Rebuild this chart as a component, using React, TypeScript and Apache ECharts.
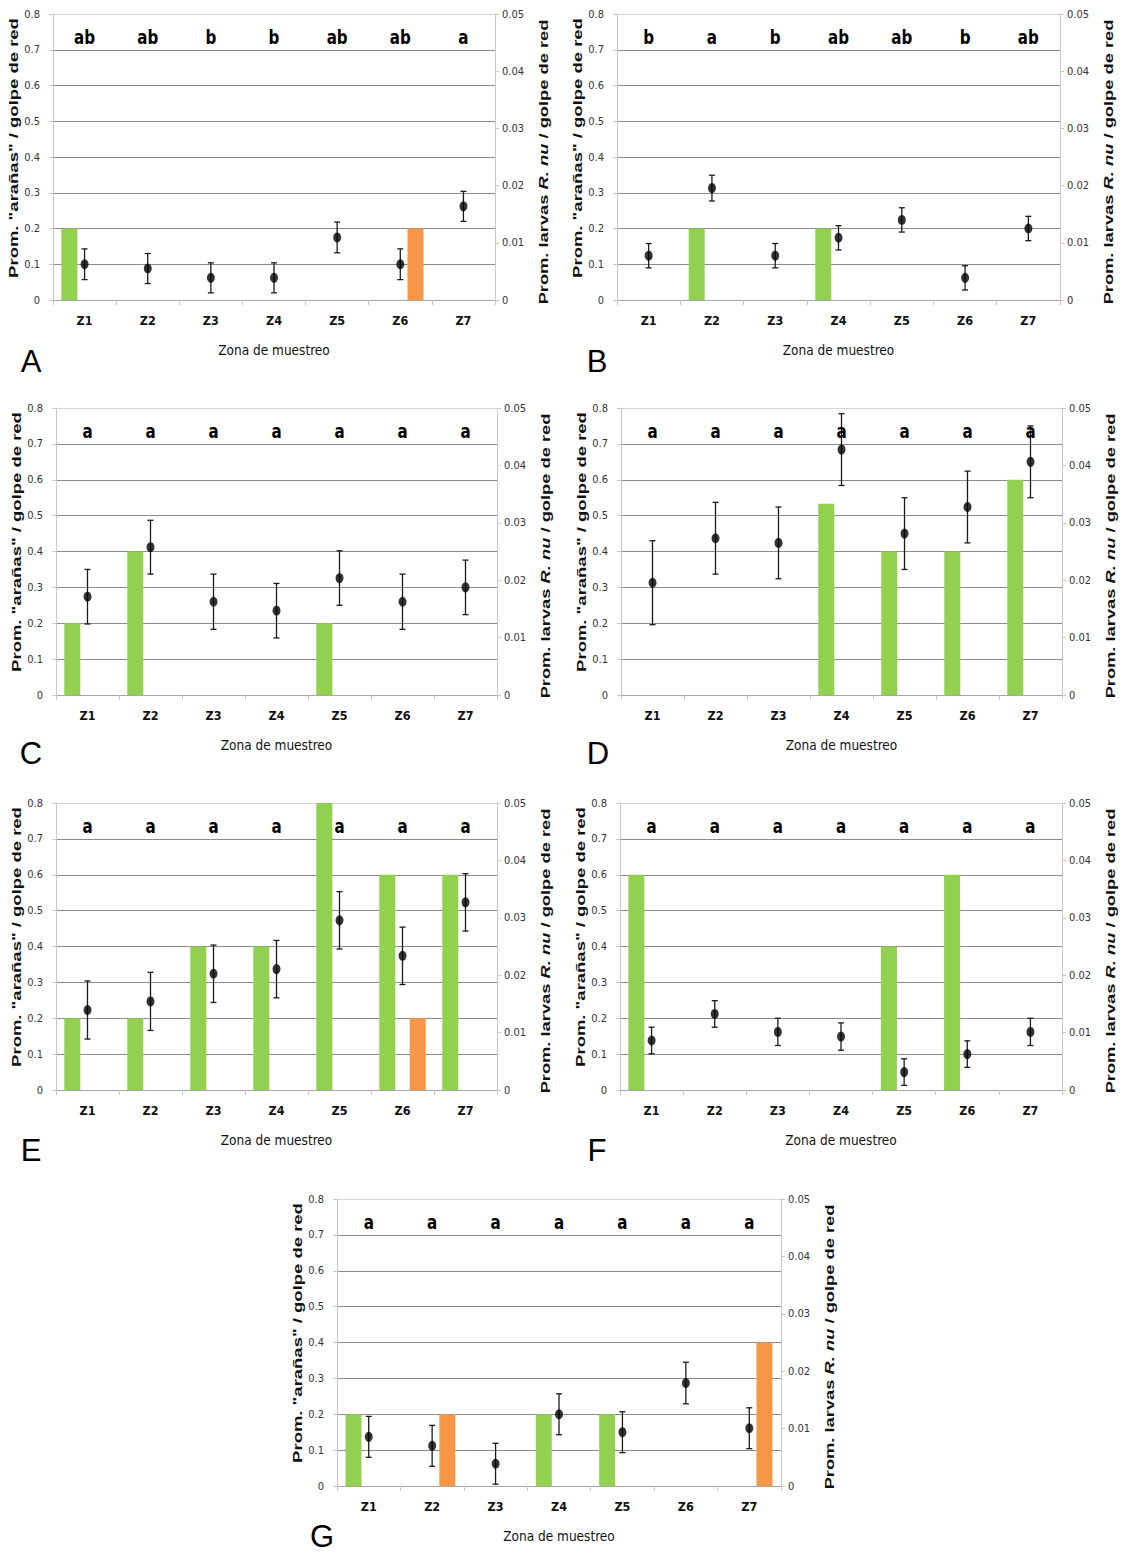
import React, { useEffect, useRef } from "react";
import * as echarts from "echarts";

// ---------- data ----------
const ZONES = ["Z1", "Z2", "Z3", "Z4", "Z5", "Z6", "Z7"];
const PANEL_NAMES = ["A", "B", "C", "D", "E", "F", "G"];

const LEFT_TICKS = [0, 0.8, 0.1]; // min, max, interval (arañas)
const RIGHT_TICKS = [0, 0.05, 0.01]; // min, max, interval (larvas R. nu)

// significance letters
const LET_A = ["ab", "ab", "b", "b", "ab", "ab", "a"];
const LET_B = ["b", "a", "b", "ab", "ab", "b", "ab"];
const LET_C = ["a", "a", "a", "a", "a", "a", "a"];
const LET_D = ["a", "a", "a", "a", "a", "a", "a"];
const LET_E = ["a", "a", "a", "a", "a", "a", "a"];
const LET_F = ["a", "a", "a", "a", "a", "a", "a"];
const LET_G = ["a", "a", "a", "a", "a", "a", "a"];

// mean "arañas" per net sweep (left axis) and error
const MEAN_A = [0.1, 0.088, 0.062, 0.062, 0.175, 0.1, 0.262];
const ERR_A = [0.043, 0.042, 0.042, 0.042, 0.043, 0.043, 0.042];
const MEAN_B = [0.124, 0.313, 0.124, 0.174, 0.224, 0.062, 0.2];
const ERR_B = [0.034, 0.036, 0.034, 0.034, 0.034, 0.034, 0.034];
const MEAN_C = [0.274, 0.412, 0.26, 0.235, 0.326, 0.26, 0.3];
const ERR_C = [0.076, 0.075, 0.077, 0.076, 0.076, 0.077, 0.076];
const MEAN_D = [0.313, 0.437, 0.424, 0.684, 0.45, 0.524, 0.65];
const ERR_D = [0.117, 0.1, 0.1, 0.1, 0.1, 0.1, 0.1];
const MEAN_E = [0.223, 0.247, 0.324, 0.337, 0.473, 0.374, 0.523];
const ERR_E = [0.081, 0.081, 0.08, 0.08, 0.08, 0.08, 0.08];
const MEAN_F = [0.138, 0.212, 0.162, 0.149, 0.05, 0.1, 0.162];
const ERR_F = [0.037, 0.037, 0.038, 0.038, 0.037, 0.037, 0.038];
const MEAN_G = [0.137, 0.112, 0.062, 0.2, 0.15, 0.287, 0.161];
const ERR_G = [0.057, 0.057, 0.057, 0.057, 0.057, 0.058, 0.057];

// mean larvae R. nu per net sweep (right axis): green and orange bars
const GREEN_A = [0.0125, null, null, null, null, null, null];
const ORANGE_A = [null, null, null, null, null, 0.0125, null];
const GREEN_B = [null, 0.0125, null, 0.0125, null, null, null];
const ORANGE_B = [null, null, null, null, null, null, null];
const GREEN_C = [0.0125, 0.025, null, null, 0.0125, null, null];
const ORANGE_C = [null, null, null, null, null, null, null];
const GREEN_D = [null, null, null, 0.0333, 0.025, 0.025, 0.0375];
const ORANGE_D = [null, null, null, null, null, null, null];
const GREEN_E = [0.0125, 0.0125, 0.025, 0.025, 0.05, 0.0375, 0.0375];
const ORANGE_E = [null, null, null, null, null, 0.0125, null];
const GREEN_F = [0.0375, null, null, null, 0.025, 0.0375, null];
const ORANGE_F = [null, null, null, null, null, null, null];
const GREEN_G = [0.0125, null, null, 0.0125, 0.0125, null, null];
const ORANGE_G = [null, 0.0125, null, null, null, null, 0.025];

const LEFT_NAME = 'Prom. "arañas" / golpe de red';
const RIGHT_NAME = "Prom. larvas {i|R. nu} / golpe de red";
const X_NAME = "Zona de muestreo";

// ---------- layout / style ----------
const PANELS = [
  { letters: LET_A, mean: MEAN_A, err: ERR_A, green: GREEN_A, orange: ORANGE_A, box: [53, 14, 442, 286], tag: [31, 361] },
  { letters: LET_B, mean: MEAN_B, err: ERR_B, green: GREEN_B, orange: ORANGE_B, box: [617, 14, 443, 286], tag: [597, 361] },
  { letters: LET_C, mean: MEAN_C, err: ERR_C, green: GREEN_C, orange: ORANGE_C, box: [56, 408, 441, 287], tag: [31, 753] },
  { letters: LET_D, mean: MEAN_D, err: ERR_D, green: GREEN_D, orange: ORANGE_D, box: [621, 408, 441, 287], tag: [598, 753] },
  { letters: LET_E, mean: MEAN_E, err: ERR_E, green: GREEN_E, orange: ORANGE_E, box: [56, 803, 441, 287], tag: [31, 1150] },
  { letters: LET_F, mean: MEAN_F, err: ERR_F, green: GREEN_F, orange: ORANGE_F, box: [620, 803, 442, 287], tag: [597, 1150] },
  { letters: LET_G, mean: MEAN_G, err: ERR_G, green: GREEN_G, orange: ORANGE_G, box: [337, 1199, 444, 287], tag: [322, 1536] },
];

const LETTER_Y = 0.735;
const NARROW = "'DejaVu Sans Condensed', 'Liberation Sans', Arial, sans-serif";
const SANS = "'Liberation Sans', Arial, sans-serif";
const GREEN = "#92d050";
const ORANGE = "#f79646";
const NAME_SIZE = 12.5;
const LEFT_NAME_LEN = 260;
const RIGHT_NAME_LEN = 285;

function textWidth(style: any) {
  try {
    const t = new (echarts.graphic as any).Text({ style });
    const w = t.getBoundingRect().width;
    return w > 0 ? w : null;
  } catch (e) {
    return null;
  }
}

function nameStyle(text: string) {
  return {
    text,
    fill: "#111",
    fontSize: NAME_SIZE,
    fontWeight: "bold",
    fontFamily: SANS,
    textAlign: "center",
    textVerticalAlign: "middle",
    align: "center",
    verticalAlign: "middle",
    rich: {
      i: { fontSize: NAME_SIZE, fontWeight: "bold", fontStyle: "italic", fontFamily: SANS, fill: "#111", color: "#111" },
    },
  };
}

function buildOption() {
  const grid: any[] = [];
  const xAxis: any[] = [];
  const yAxis: any[] = [];
  const series: any[] = [];
  const graphic: any[] = [];

  const lw = textWidth(nameStyle(LEFT_NAME));
  const rw = textWidth(nameStyle(RIGHT_NAME));
  const leftScale = lw ? LEFT_NAME_LEN / lw : 1.2;
  const rightScale = rw ? RIGHT_NAME_LEN / rw : 1.2;

  PANELS.forEach((p, k) => {
    const [left, top, width, height] = p.box;
    grid.push({ left, top, width, height, containLabel: false });
    xAxis.push({
      type: "category",
      gridIndex: k,
      data: ZONES,
      name: X_NAME,
      nameLocation: "middle",
      nameGap: 43,
      nameTextStyle: { fontFamily: NARROW, fontSize: 13.5, color: "#111" },
      axisLine: { show: true, lineStyle: { color: "#a6a6a6", width: 1 } },
      axisTick: { show: true, length: 5, lineStyle: { color: "#c8c8c8" } },
      axisLabel: { margin: 14, fontFamily: NARROW, fontWeight: "bold", fontSize: 12.5, color: "#111" },
      splitLine: { show: false },
    });
    yAxis.push({
      type: "value",
      gridIndex: k,
      position: "left",
      min: LEFT_TICKS[0],
      max: LEFT_TICKS[1],
      interval: LEFT_TICKS[2],
      axisLine: { show: true, lineStyle: { color: "#c8c8c8" } },
      axisTick: { show: true, length: 4, lineStyle: { color: "#c8c8c8" } },
      axisLabel: { margin: 13, fontFamily: NARROW, fontSize: 11, color: "#333" },
      splitLine: {
        show: true,
        lineStyle: {
          color: ["#8c8c8c", "#8c8c8c", "#8c8c8c", "#8c8c8c", "#8c8c8c", "#8c8c8c", "#8c8c8c", "#8c8c8c", "#d4d4d4"],
          width: 1,
        },
      },
    });
    yAxis.push({
      type: "value",
      gridIndex: k,
      position: "right",
      min: RIGHT_TICKS[0],
      max: RIGHT_TICKS[1],
      interval: RIGHT_TICKS[2],
      axisLine: { show: true, lineStyle: { color: "#c8c8c8" } },
      axisTick: { show: true, length: 4, lineStyle: { color: "#c8c8c8" } },
      axisLabel: { margin: 7, fontFamily: NARROW, fontSize: 11, color: "#333" },
      splitLine: { show: false },
    });
    const yl = 2 * k;
    const yr = 2 * k + 1;
    series.push({
      type: "bar",
      name: "larvas verde " + PANEL_NAMES[k],
      xAxisIndex: k,
      yAxisIndex: yr,
      data: p.green,
      barWidth: 16,
      barGap: "90%",
      itemStyle: { color: GREEN },
      silent: true,
      z: 1,
    });
    series.push({
      type: "bar",
      name: "larvas naranja " + PANEL_NAMES[k],
      xAxisIndex: k,
      yAxisIndex: yr,
      data: p.orange,
      barWidth: 16,
      barGap: "90%",
      itemStyle: { color: ORANGE },
      silent: true,
      z: 1,
    });
    const errData = p.mean.map((m, i) => [i, m, p.err[i]]);
    series.push({
      type: "custom",
      name: "error " + PANEL_NAMES[k],
      xAxisIndex: k,
      yAxisIndex: yl,
      coordinateSystem: "cartesian2d",
      data: errData,
      encode: { x: 0, y: 1 },
      silent: true,
      z: 3,
      renderItem: (params: any, api: any) => {
        const x = api.value(0);
        const m = api.value(1);
        const e = api.value(2);
        const t = api.coord([x, m + e]);
        const b = api.coord([x, m - e]);
        const cx = t[0];
        const st = { stroke: "#1a1a1a", lineWidth: 1.3 };
        return {
          type: "group",
          children: [
            { type: "line", shape: { x1: cx, y1: t[1], x2: cx, y2: b[1] }, style: st },
            { type: "line", shape: { x1: cx - 3, y1: t[1], x2: cx + 3, y2: t[1] }, style: st },
            { type: "line", shape: { x1: cx - 3, y1: b[1], x2: cx + 3, y2: b[1] }, style: st },
          ],
        };
      },
    });
    series.push({
      type: "scatter",
      name: "arañas " + PANEL_NAMES[k],
      xAxisIndex: k,
      yAxisIndex: yl,
      data: p.mean.map((m, i) => [i, m]),
      symbol: "circle",
      symbolSize: [8, 10],
      itemStyle: { color: "#000" },
      silent: true,
      z: 4,
    });
    const letters = p.letters;
    series.push({
      type: "custom",
      name: "letras " + PANEL_NAMES[k],
      xAxisIndex: k,
      yAxisIndex: yl,
      coordinateSystem: "cartesian2d",
      data: letters.map((_, i) => [i, LETTER_Y]),
      encode: { x: 0, y: 1 },
      silent: true,
      z: 5,
      renderItem: (params: any, api: any) => {
        const pt = api.coord([api.value(0), api.value(1)]);
        return {
          type: "text",
          x: pt[0],
          y: pt[1],
          scaleX: 0.84,
          style: {
            text: letters[params.dataIndex],
            fill: "#000",
            font: "bold 20px " + NARROW,
            textAlign: "center",
            textVerticalAlign: "middle",
            align: "center",
            verticalAlign: "middle",
          },
        };
      },
    });
    // axis titles
    graphic.push({
      type: "text",
      x: left - 39,
      y: top + 134,
      rotation: Math.PI / 2,
      scaleX: leftScale,
      style: nameStyle(LEFT_NAME),
    });
    graphic.push({
      type: "text",
      x: left + width + 49,
      y: top + 148,
      rotation: Math.PI / 2,
      scaleX: rightScale,
      style: nameStyle(RIGHT_NAME),
    });
    graphic.push({
      type: "text",
      x: p.tag[0],
      y: p.tag[1],
      style: {
        text: PANEL_NAMES[k],
        fill: "#000",
        font: "31px " + SANS,
        textAlign: "center",
        textVerticalAlign: "middle",
        align: "center",
        verticalAlign: "middle",
      },
    });
  });

  return {
    animation: false,
    backgroundColor: "#ffffff",
    grid,
    xAxis,
    yAxis,
    series,
    graphic,
  };
}

export default function App() {
  const ref = useRef<HTMLDivElement>(null);
  useEffect(() => {
    if (!ref.current) return;
    const chart = echarts.init(ref.current, undefined, { renderer: "svg" });
    chart.setOption(buildOption() as any);
    return () => chart.dispose();
  }, []);
  return (
    <div
      ref={ref}
      style={{ position: "absolute", left: 0, top: 0, width: 1126, height: 1555, background: "#fff" }}
    />
  );
}
